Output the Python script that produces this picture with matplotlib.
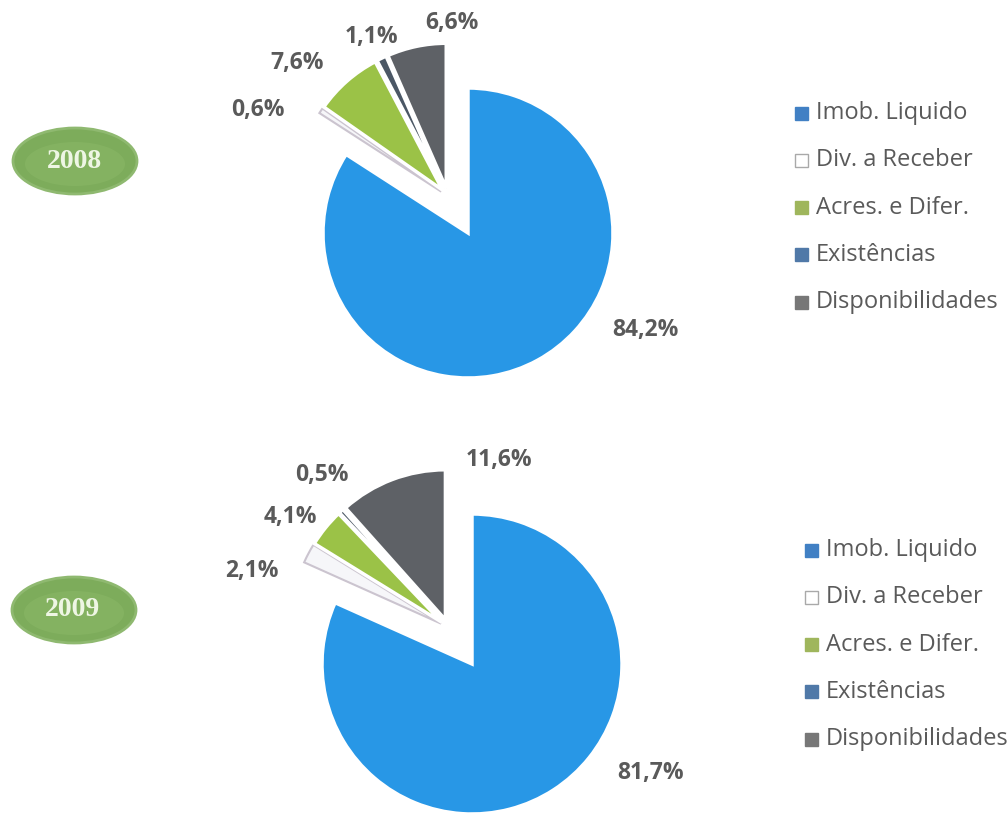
import math
import matplotlib.pyplot as plt
from matplotlib.patches import Ellipse, Rectangle

# Estrutura do activo, 2008 e 2009 (%)
categorias = ["Imob. Liquido", "Div. a Receber", "Acres. e Difer.",
              "Existências", "Disponibilidades"]
valores_2008 = [84.2, 0.6, 7.6, 1.1, 6.6]
valores_2009 = [81.7, 2.1, 4.1, 0.5, 11.6]

W, H = 1008, 832

cores_fatias = ["#2897e6", "#f6f6f9", "#9bc247", "#4b5765", "#5e6166"]
cores_legenda = ["#4180c4", "#ffffff", "#9fb65c", "#5079a8", "#777777"]
afastar = [0, 0.055, 0.055, 0.055, 0.055]   # fraccao do raio, por fatia
afastar_grupo = 0.29                         # fatias pequenas saem juntas
cinza = "#5a5a5a"

fig = plt.figure(figsize=(W / 100, H / 100), dpi=100)
ax = fig.add_axes([0, 0, 1, 1])


def pct(v):
    return f"{v:.1f}".replace(".", ",") + "%"


def desenha(ano, valores, centro, raio, rotulos, leg_x, leg_y0, elipse):
    cx, cy = centro
    # explode do matplotlib e em unidades de dados, nao do raio
    wedges, _ = ax.pie(valores, explode=[e * raio for e in afastar],
                       colors=cores_fatias, startangle=90, counterclock=False,
                       center=(cx, H - cy), radius=raio,
                       wedgeprops=dict(edgecolor="white", linewidth=2.5))

    # desloca o grupo das fatias pequenas na direccao do seu angulo medio
    pequenas = wedges[1:]
    t_min = min(w.theta1 for w in pequenas)
    t_max = max(w.theta2 for w in pequenas)
    ang = math.radians((t_min + t_max) / 2)
    dx, dy = afastar_grupo * raio * math.cos(ang), afastar_grupo * raio * math.sin(ang)
    for w in pequenas:
        x0, y0 = w.center
        w.set_center((x0 + dx, y0 + dy))

    # fatia branca precisa de contorno para se ver
    wedges[1].set_edgecolor("#cbc4cf")
    wedges[1].set_linewidth(1.5)

    for v, (tx, ty) in zip(valores, rotulos):
        ax.text(tx, H - ty, pct(v), ha="center", va="center",
                fontsize=16.5, fontweight="bold", color=cinza,
                family="Open Sans")

    # legenda
    for i, (nome, cor) in enumerate(zip(categorias, cores_legenda)):
        y = H - (leg_y0 + i * 47.3)
        ax.add_patch(Rectangle((leg_x, y - 6.5), 13, 13, facecolor=cor,
                               edgecolor="#a9a9a9" if i == 1 else cor,
                               linewidth=1))
        ax.text(leg_x + 21, y, nome, ha="left", va="center",
                fontsize=17, color=cinza, family="Open Sans")

    # etiqueta do ano
    ex, ey = elipse
    ax.add_patch(Ellipse((ex, H - ey), 124, 66, facecolor="#7dac5b",
                         edgecolor="#8fb970", linewidth=2))
    ax.add_patch(Ellipse((ex, H - ey - 3), 100, 44, facecolor="#86b463",
                         edgecolor="none", alpha=0.8))
    ax.text(ex - 1, H - ey, ano, ha="center", va="center", fontsize=20,
            fontweight="bold", color="#eef6e4", family="Liberation Serif")


desenha("2008", valores_2008, (468, 233), 145,
        [(645, 330), (258, 110), (297, 63), (371, 37), (452, 23)],
        795, 113, (75, 161))
desenha("2009", valores_2009, (472, 664), 150,
        [(651, 773), (252, 571), (290, 517), (322, 475), (499, 460)],
        805, 550, (74, 610))

ax.set_xlim(0, W)
ax.set_ylim(0, H)
ax.set_aspect("equal")
ax.axis("off")

fig.savefig("out.png", dpi=100, facecolor="white")
